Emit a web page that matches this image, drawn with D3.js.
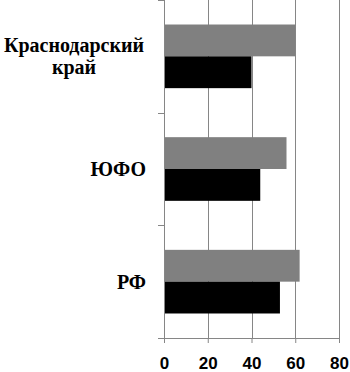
<!DOCTYPE html>
<html>
<head>
<meta charset="utf-8">
<script src="https://cdn.jsdelivr.net/npm/d3@7"></script>
</head>
<body style="margin:0;background:#fff">
<div id="chart"></div>
<script>
const categories = ['Краснодарский край', 'ЮФО', 'РФ'];
const categoryLines = [['Краснодарский', 'край'], ['ЮФО'], ['РФ']];
const seriesNames = ['grey', 'black'];
const greyValues = [60, 56, 62];
const blackValues = [40, 44, 53];
const xTicks = [0, 20, 40, 60, 80];

const seriesColors = { grey: '#808080', black: '#000000' };

const margin = { top: 0, right: 11, bottom: 34, left: 164 };
const width = 350 - margin.left - margin.right;
const height = 372 - margin.top - margin.bottom;

const root = d3.select('#chart')
    .append('svg')
    .attr('width', 350)
    .attr('height', 372);

const svg = root.append('g')
    .attr('transform', `translate(${margin.left},${margin.top})`);

const x = d3.scaleLinear().domain([0, 80]).range([0, width]);
const y = d3.scaleBand().domain(categories).range([0, height]).padding(0);
const inner = d3.scaleBand().domain(seriesNames).range([0, y.bandwidth()])
    .paddingInner(0).paddingOuter(0.77);

const rows = categories.map((c, i) => ({ cat: c, grey: greyValues[i], black: blackValues[i] }));

// vertical gridlines
svg.append('g')
    .selectAll('line')
    .data(xTicks.slice(1))
    .enter()
    .append('line')
    .attr('x1', d => Math.round(x(d)) + 0.5)
    .attr('x2', d => Math.round(x(d)) + 0.5)
    .attr('y1', 0)
    .attr('y2', height)
    .attr('stroke', '#868686');

// bars
const group = svg.append('g')
    .selectAll('g')
    .data(rows)
    .enter()
    .append('g')
    .attr('transform', d => `translate(0,${y(d.cat)})`);

group.selectAll('rect')
    .data(d => seriesNames.map(k => ({ key: k, value: d[k] })))
    .enter()
    .append('rect')
    .attr('x', x(0))
    .attr('y', d => inner(d.key))
    .attr('width', d => x(d.value) - x(0))
    .attr('height', inner.bandwidth())
    .attr('fill', d => seriesColors[d.key]);

// bottom axis
const xAxis = svg.append('g')
    .attr('transform', `translate(0,${height})`)
    .call(d3.axisBottom(x).tickValues(xTicks).tickSize(5).tickPadding(0));
xAxis.select('.domain').attr('stroke', '#868686');
xAxis.selectAll('.tick line').attr('stroke', '#868686');
xAxis.selectAll('text')
    .attr('dy', null)
    .attr('y', 31)
    .style('font-family', "'Liberation Sans'")
    .style('font-weight', 'bold')
    .style('font-size', '17px')
    .attr('fill', '#000');

// left axis: ticks at band boundaries
const leftAxis = svg.append('g');
leftAxis.append('line')
    .attr('x1', 0.5).attr('x2', 0.5)
    .attr('y1', 0).attr('y2', height)
    .attr('stroke', '#868686');
leftAxis.selectAll('.cat-tick')
    .data(categories.map(c => y(c)).concat([height]))
    .enter()
    .append('line')
    .attr('x1', -6).attr('x2', 0)
    .attr('y1', d => Math.round(d) + 0.5)
    .attr('y2', d => Math.round(d) + 0.5)
    .attr('stroke', '#868686');

// category labels, one text per line, centred on a fixed column
const labelCenter = 74;
const lineHeight = 22;
categories.forEach((c, i) => {
    const lines = categoryLines[i];
    const cy = y(c) + y.bandwidth() / 2;
    const multi = lines.length > 1;
    lines.forEach((ln, j) => {
        root.append('text')
            .attr('x', multi ? labelCenter : 146)
            .attr('y', cy + 7 + (j - (lines.length - 1) / 2) * lineHeight)
            .attr('text-anchor', multi ? 'middle' : 'end')
            .style('font-family', "'Liberation Serif'")
            .style('font-weight', 'bold')
            .style('font-size', '20px')
            .attr('fill', '#000')
            .text(ln);
    });
});
</script>
</body>
</html>
